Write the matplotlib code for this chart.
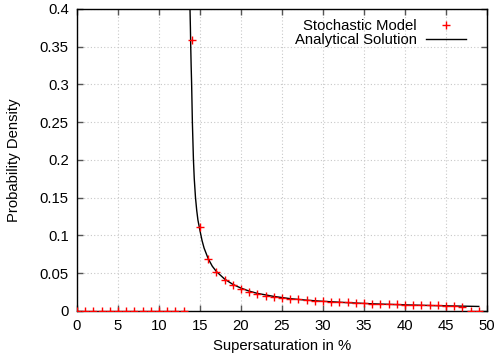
import matplotlib
matplotlib.use('Agg')
import matplotlib.pyplot as plt

# ---------------------------------------------------------
# DATA
# ---------------------------------------------------------

# stochastic model: one point per integer supersaturation
stoch_x = list(range(0, 50))
stoch_y = [0.0] * 14 + [
    0.359, 0.111, 0.069, 0.052, 0.041, 0.034, 0.029, 0.025, 0.022, 0.020,
    0.018, 0.017, 0.016, 0.015, 0.014, 0.013, 0.0125, 0.012, 0.0115, 0.011,
    0.0102, 0.0098, 0.0095, 0.0091, 0.0088, 0.0085, 0.0081, 0.0078, 0.0075,
    0.0073, 0.0071, 0.0069, 0.0067, 0.0048, 0.0, 0.0]

# analytical solution (sampled from the drawn curve)
ana_x = [13.78, 13.83, 13.87, 13.92, 13.98, 14.07, 14.2, 14.3, 14.45, 14.6,
         14.75, 15.0, 15.25, 15.5, 16.0, 16.5, 17.0, 18.0, 19.0, 20.0, 21.0,
         22.0, 24.0, 26.0, 28.0, 30.0, 33.0, 36.0, 40.0, 44.0, 49.0]
ana_y = [0.40, 0.375, 0.35, 0.325, 0.30, 0.25, 0.20, 0.175, 0.15, 0.133,
         0.12, 0.106, 0.093, 0.083, 0.069, 0.059, 0.052, 0.042, 0.035, 0.030,
         0.026, 0.023, 0.019, 0.016, 0.014, 0.0125, 0.0107, 0.0092, 0.0078,
         0.0067, 0.0057]

xticks = list(range(0, 51, 5))
yticks = [0, 0.05, 0.1, 0.15, 0.2, 0.25, 0.3, 0.35, 0.4]
ytick_labels = ['0', '0.05', '0.1', '0.15', '0.2', '0.25', '0.3', '0.35', '0.4']

# ---------------------------------------------------------
# PLOT
# ---------------------------------------------------------
plt.rcParams['font.family'] = ['Liberation Sans', 'DejaVu Sans']
plt.rcParams['font.size'] = 10.7

fig = plt.figure(figsize=(5.0, 3.58), dpi=100)
ax = fig.add_axes([0.154, 0.132, 0.82, 0.843])

ax.plot(stoch_x, stoch_y, linestyle='none', marker='+', color='#ff0000',
        markersize=5.5, markeredgewidth=1.0, label='Stochastic Model', zorder=3)
ax.plot(ana_x, ana_y, color='black', linewidth=1.0,
        label='Analytical Solution', zorder=2)

ax.set_xlim(0, 50)
ax.set_ylim(0, 0.4)
ax.set_xticks(xticks)
ax.set_yticks(yticks)
ax.set_yticklabels(ytick_labels)

ax.grid(True, color='#c8c8c8', linestyle=(0, (1, 2)), linewidth=0.8)
ax.tick_params(direction='in', length=4, width=1, color='#555555',
               top=True, right=True, pad=6)
for s in ax.spines.values():
    s.set_linewidth(1.0)
    s.set_color('black')

ax.set_xlabel('Supersaturation in %', labelpad=4)
ax.set_ylabel('Probability Density', labelpad=13)

ax.legend(loc='upper right', frameon=False, markerfirst=False,
          handlelength=2.7, handletextpad=0.65, labelspacing=0.0,
          borderaxespad=0.3, bbox_to_anchor=(0.975, 1.0))

fig.savefig('out.png', dpi=100)
